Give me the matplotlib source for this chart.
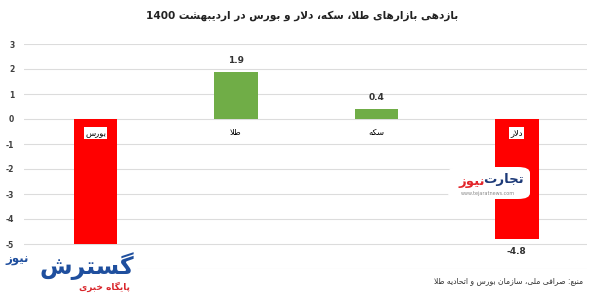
import re
import numpy as np
import matplotlib
matplotlib.use('Agg')
import matplotlib.pyplot as plt
from matplotlib.patches import FancyBboxPatch

plt.rcParams['font.family'] = ['DejaVu Sans']
plt.rcParams['axes.unicode_minus'] = False

# data
categories = ['بورس', 'طلا', 'سکه', 'دلار']
values = [-5.0, 1.9, 0.4, -4.8]
title = 'بازدهی بازارهای طلا، سکه، دلار و بورس در اردیبهشت 1400'
source = 'منبع: صرافی ملی، سازمان بورس و اتحادیه طلا'
yticks = list(range(-6, 4))

# presentation forms (iso, fin, ini, med); None -> right-joining only
FORMS = {
    'ا': (0xFE8D, 0xFE8E, None, None),
    'ب': (0xFE8F, 0xFE90, 0xFE91, 0xFE92),
    'پ': (0xFB56, 0xFB57, 0xFB58, 0xFB59),
    'ت': (0xFE95, 0xFE96, 0xFE97, 0xFE98),
    'ج': (0xFE9D, 0xFE9E, 0xFE9F, 0xFEA0),
    'ح': (0xFEA1, 0xFEA2, 0xFEA3, 0xFEA4),
    'خ': (0xFEA5, 0xFEA6, 0xFEA7, 0xFEA8),
    'د': (0xFEA9, 0xFEAA, None, None),
    'ر': (0xFEAD, 0xFEAE, None, None),
    'ز': (0xFEAF, 0xFEB0, None, None),
    'س': (0xFEB1, 0xFEB2, 0xFEB3, 0xFEB4),
    'ش': (0xFEB5, 0xFEB6, 0xFEB7, 0xFEB8),
    'ص': (0xFEB9, 0xFEBA, 0xFEBB, 0xFEBC),
    'ط': (0xFEC1, 0xFEC2, 0xFEC3, 0xFEC4),
    'ع': (0xFEC9, 0xFECA, 0xFECB, 0xFECC),
    'ف': (0xFED1, 0xFED2, 0xFED3, 0xFED4),
    'ک': (0xFB8E, 0xFB8F, 0xFB90, 0xFB91),
    'گ': (0xFB92, 0xFB93, 0xFB94, 0xFB95),
    'ل': (0xFEDD, 0xFEDE, 0xFEDF, 0xFEE0),
    'م': (0xFEE1, 0xFEE2, 0xFEE3, 0xFEE4),
    'ن': (0xFEE5, 0xFEE6, 0xFEE7, 0xFEE8),
    'و': (0xFEED, 0xFEEE, None, None),
    'ه': (0xFEE9, 0xFEEA, 0xFEEB, 0xFEEC),
    'ی': (0xFBFC, 0xFBFD, 0xFBFE, 0xFBFF),
}


def fa(s):
    # shape persian text and put it in visual order
    out = []
    i = 0
    while i < len(s):
        c = s[i]
        if c not in FORMS:
            out.append(c)
            i += 1
            continue
        prev = s[i - 1] if i > 0 else ''
        nxt = s[i + 1] if i + 1 < len(s) else ''
        jp = prev in FORMS and FORMS[prev][2] is not None
        if c == 'ل' and nxt == 'ا':
            out.append(chr(0xFEFC if jp else 0xFEFB))
            i += 2
            continue
        jn = FORMS[c][2] is not None and nxt in FORMS
        f = FORMS[c]
        if jp and jn:
            out.append(chr(f[3]))
        elif jp:
            out.append(chr(f[1]))
        elif jn:
            out.append(chr(f[2]))
        else:
            out.append(chr(f[0]))
        i += 1
    rev = ''.join(out)[::-1]
    return re.sub(r'[0-9A-Za-z.]+', lambda m: m.group()[::-1], rev)


W, H = 600, 297
fig = plt.figure(figsize=(6, 2.97), dpi=100)
ax = fig.add_axes([24 / W, 1 - 269 / H, (587 - 24) / W, (269 - 44) / H])

x = np.arange(len(categories))
colors = ['#ff0000' if v < 0 else '#70ad47' for v in values]
ax.bar(x, values, width=0.31, color=colors, zorder=2)

ax.set_ylim(-6, 3)
ax.set_xlim(-0.51, 3.5)
ax.set_yticks(yticks)
# the -6 label sits under the logo in the original
ax.set_yticklabels(['' if t == -6 else str(t) for t in yticks], fontsize=5.5,
                   fontweight='bold', color='#404040')
ax.set_xticks([])
ax.tick_params(axis='y', length=0, pad=7)
ax.grid(axis='y', color='#dcdcdc', linewidth=0.8, zorder=0)
for sp in ax.spines.values():
    sp.set_visible(False)

for xi, v, c in zip(x, values, categories):
    # the bourse value label is hidden by the logo
    if v > -5:
        off = 0.45 if v > 0 else -0.5
        ax.text(xi, v + off, f'{v:.1f}', ha='center', va='center', fontsize=6.5,
                fontweight='bold', color='#333333', zorder=3)
    ax.text(xi, -0.55, fa(c), ha='center', va='center', fontsize=6, color='black', zorder=3,
            bbox=dict(boxstyle='square,pad=0.15', fc='white', ec='none'))

fig.text(0.503, 1 - 16 / H, fa(title), ha='center', va='center', fontsize=7.6,
         fontweight='bold', color='#222222')
fig.text(583 / W, 1 - 281 / H, fa(source), ha='right', va='center', fontsize=5.5, color='#333333')

# tejarat news watermark
fig.patches.append(FancyBboxPatch((448 / W, 1 - 199 / H), 82 / W, 32 / H,
                                  boxstyle='round,pad=0,rounding_size=0.02',
                                  transform=fig.transFigure, fc='white', ec='none', zorder=5))
fig.text(524 / W, 1 - 180 / H, fa('تجارت'), ha='right', va='center', fontsize=9.5,
         fontweight='bold', color='#1d3a78', zorder=6)
fig.text(485 / W, 1 - 181 / H, fa('نیوز'), ha='right', va='center', fontsize=9.5,
         fontweight='bold', color='#e3262b', zorder=6)
fig.text(488 / W, 1 - 193 / H, 'www.tejaratnews.com', ha='center', va='center', fontsize=3.5,
         color='#888888', zorder=6)

# gostaresh news logo
fig.patches.append(FancyBboxPatch((0, 0), 137 / W, 48 / H, boxstyle='square,pad=0',
                                  transform=fig.transFigure, fc='white', ec='none', zorder=5))
fig.text(134 / W, 1 - 266 / H, fa('گسترش'), ha='right', va='center', fontsize=17,
         fontweight='bold', color='#1f4f9e', zorder=6)
fig.text(5 / W, 1 - 259 / H, fa('نیوز'), ha='left', va='center', fontsize=8.5,
         fontweight='bold', color='#1f4f9e', zorder=6)
fig.text(130 / W, 1 - 287 / H, fa('پایگاه خبری'), ha='right', va='center', fontsize=6.5,
         fontweight='bold', color='#d9262b', zorder=6)

fig.savefig('out.png', dpi=100, facecolor='white')
